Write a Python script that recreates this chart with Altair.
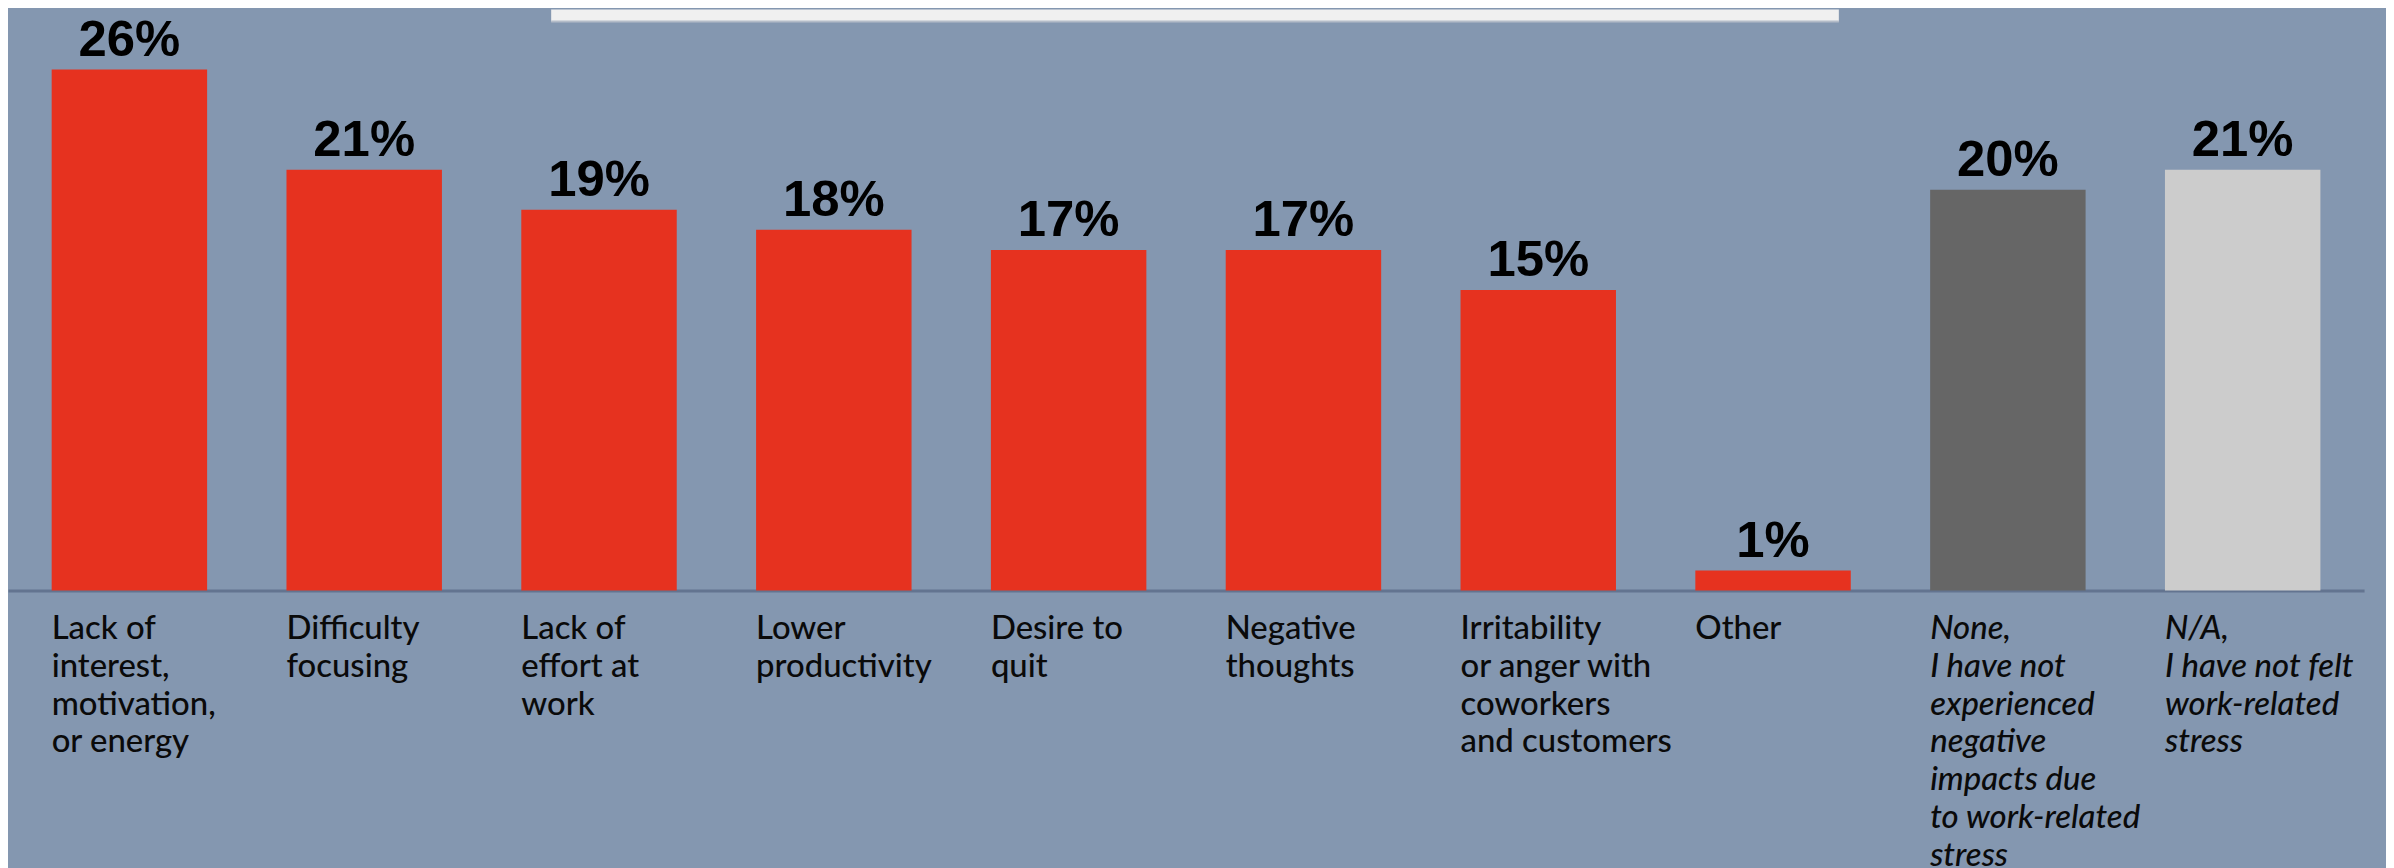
import altair as alt
import pandas as pd

categories = [
    "Lack of|interest,|motivation,|or energy",
    "Difficulty|focusing",
    "Lack of|effort at|work",
    "Lower|productivity",
    "Desire to|quit",
    "Negative|thoughts",
    "Irritability|or anger with|coworkers|and customers",
    "Other",
    "None,|I have not|experienced|negative|impacts due|to work-related|stress",
    "N/A,|I have not felt|work-related|stress",
]
values = [26, 21, 19, 18, 17, 17, 15, 1, 20, 21]
colors = ["#E6321F"] * 8 + ["#666666", "#CCCCCC"]
value_labels = [f"{v}%" for v in values]

df = pd.DataFrame({"cat": categories, "val": values, "lab": value_labels})

BG = "#8497B0"

x_enc = alt.X(
    "cat:N",
    sort=categories,
    title=None,
    scale=alt.Scale(paddingInner=0.338, paddingOuter=0.186),
    axis=alt.Axis(
        ticks=False,
        grid=False,
        domainColor="#637490",
        domainWidth=3,
        labelAngle=0,
        labelAlign="left",
        labelBaseline="top",
        labelOffset=-78,
        labelPadding=22,
        labelFont="Lato",
        labelFontSize=33,
        labelFontWeight=500,
        labelLineHeight=38,
        labelColor="#0A0A0A",
        labelLimit=400,
        labelOverlap=False,
        labelBound=False,
        labelExpr="split(datum.label, '|')",
        labelFontStyle={
            "condition": {
                "test": "indexof(datum.value, 'None') === 0 || indexof(datum.value, 'N/A') === 0",
                "value": "italic",
            },
            "value": "normal",
        },
    ),
)

y_enc = alt.Y("val:Q", title=None, axis=None, scale=alt.Scale(domain=[0, 29], nice=False))

bars = alt.Chart(df).mark_bar().encode(
    x=x_enc,
    y=y_enc,
    color=alt.Color("cat:N", scale=alt.Scale(domain=categories, range=colors), legend=None),
)

text = alt.Chart(df).mark_text(
    font="Liberation Sans",
    fontWeight="bold",
    fontSize=51,
    baseline="alphabetic",
    dy=-14,
    color="#000000",
).encode(x=alt.X("cat:N", sort=categories), y="val:Q", text="lab:N")

box = alt.Chart(alt.Data(values=[{}])).mark_rect(color="#F0F0F0").encode(
    x=alt.value(545), x2=alt.value(1837), y=alt.value(0), y2=alt.value(12)
)
box_edge = alt.Chart(alt.Data(values=[{}])).mark_rule(color="#B4BCC8", strokeWidth=2).encode(
    x=alt.value(545), x2=alt.value(1837), y=alt.value(12)
)

chart = (
    alt.layer(bars, text, box, box_edge)
    .properties(width=2364, height=583, padding={"left": 0, "top": 0, "right": 22, "bottom": 0})
    .configure(background=BG)
    .configure_view(stroke=None)
)

chart.save("out.html", embed_options={"renderer": "svg", "actions": False})
